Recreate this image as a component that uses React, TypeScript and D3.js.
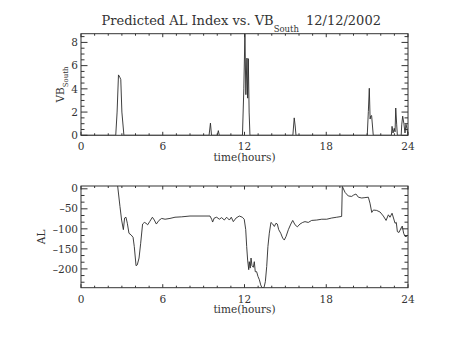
import React, { useEffect, useRef } from "react";
import * as d3 from "d3";

// VB_South (top panel), hours vs value
const vbHours = [
  0, 2.55, 2.65, 2.75, 2.85, 2.92, 3.0, 3.15,
  9.4, 9.5, 9.58, 10.0, 10.08, 10.15,
  11.85, 11.95, 12.03, 12.1, 12.18, 12.23, 12.28, 12.34, 12.4,
  15.55, 15.65, 15.72, 15.78,
  21.01, 21.09, 21.16, 21.22, 21.26, 21.33, 21.45,
  22.78, 22.83, 22.9, 22.99, 23.05, 23.1, 23.17, 23.22,
  23.5, 23.54, 23.61, 23.7, 23.78, 23.85, 23.92, 24,
];
const vbValues = [
  0, 0, 2.0, 5.2, 5.0, 4.8, 2.0, 0,
  0, 1.05, 0, 0, 0.4, 0,
  0, 4.0, 8.75, 3.5, 6.65, 3.2, 6.6, 2.0, 0,
  0, 1.5, 0.8, 0,
  0, 2.05, 4.05, 1.4, 1.65, 1.7, 0,
  0, 0.77, 0.2, 0.6, 0.3, 2.35, 0.9, 0,
  0, 0.9, 1.65, 1.0, 0.2, 0.95, 0.6, 0,
];

// AL index (bottom panel)
const alHours = [
  2.69, 2.86, 2.98, 3.11, 3.2, 3.3, 3.4, 3.52, 3.67, 3.82, 3.91, 4.04, 4.13,
  4.26, 4.38, 4.52, 4.65, 4.77, 4.89, 5.04, 5.24, 5.38, 5.53, 5.72, 5.92,
  6.17, 6.53, 6.9, 7.39, 8.0, 9.47, 9.59, 9.66, 9.78, 9.96, 10.15, 10.32,
  10.52, 10.69, 10.89, 11.03, 11.18, 11.38, 11.62, 11.84, 11.98, 12.09,
  12.16, 12.23, 12.31, 12.35, 12.42, 12.48, 12.55, 12.65, 12.72, 12.79,
  12.89, 12.99, 13.09, 13.19, 13.28, 13.43, 13.53, 13.63, 13.72, 13.82,
  13.94, 14.07, 14.19, 14.31, 14.41, 14.51, 14.66, 14.8, 14.92, 15.05,
  15.22, 15.4, 15.54, 15.71, 15.88, 16.07, 16.27, 16.44, 16.68, 16.93,
  17.3, 17.67, 18.03, 18.4, 18.77, 19.13, 19.18, 19.38, 19.62, 19.87,
  19.99, 20.18, 20.36, 20.6, 20.84, 21.09, 21.21, 21.34, 21.46, 21.7,
  21.95, 22.19, 22.39, 22.56, 22.68, 22.83, 22.98, 23.05, 23.14, 23.22,
  23.34, 23.49, 23.58, 23.68, 23.78, 23.9, 24,
];
const alValues = [
  7, -44, -78, -102, -73, -71, -86, -111, -115, -121, -144, -192, -190,
  -173, -136, -88, -84, -86, -90, -82, -71, -78, -88, -79, -74,
  -76, -74, -71, -70, -68, -68, -76, -83, -73, -71, -76, -72,
  -78, -71, -78, -71, -82, -73, -68, -71, -76, -102,
  -144, -178, -202, -182, -198, -173, -192, -196, -182, -207,
  -207, -219, -227, -240, -247, -247, -232, -194, -144, -111,
  -84, -88, -94, -86, -88, -102, -111, -123, -128, -119,
  -102, -88, -79, -90, -95, -88, -84, -82, -84, -79,
  -78, -76, -76, -73, -71, -69, 6, -9, -18, -19,
  -16, -13, -21, -23, -22, -21, -36, -59, -53, -54,
  -58, -68, -79, -65, -71, -61, -78, -86, -84, -107,
  -109, -98, -93, -111, -119, -119, -115,
];

const hourTicks = [0, 6, 12, 18, 24];
const vbTicks = [0, 2, 4, 6, 8];
const alTicks = [0, -50, -100, -150, -200];

const W = 453;
const H = 340;
const FONT = "'DejaVu Serif', serif";
const INK = "#333";

export default function App() {
  const ref = useRef<SVGSVGElement>(null);

  useEffect(() => {
    const svg = d3.select(ref.current);
    svg.selectAll("*").remove();

    const xScale = d3.scaleLinear().domain([0, 24]).range([81, 408]);

    const drawPanel = (
      y0: number,
      y1: number,
      domain: [number, number],
      ticks: number[],
      minorStep: number,
      hours: number[],
      values: number[],
      id: string
    ) => {
      const yScale = d3.scaleLinear().domain(domain).range([y1, y0]);
      const g = svg.append("g");

      // clip
      svg.append("clipPath").attr("id", id)
        .append("rect").attr("x", 81).attr("y", y0).attr("width", 327).attr("height", y1 - y0);

      // data line
      const line = d3.line<number>()
        .x((d, i) => xScale(hours[i]))
        .y(d => yScale(d));
      g.append("path")
        .attr("d", line(values))
        .attr("fill", "none")
        .attr("stroke", "#2a2a2a")
        .attr("stroke-width", 0.9)
        .attr("clip-path", `url(#${id})`);

      // box
      g.append("rect")
        .attr("x", 81).attr("y", y0).attr("width", 327).attr("height", y1 - y0)
        .attr("fill", "none").attr("stroke", INK).attr("stroke-width", 1);

      // x ticks (bottom and top, inward)
      const xMinor = d3.range(0, 25, 1);
      xMinor.forEach(h => {
        const len = hourTicks.includes(h) ? 3.5 : 2;
        const x = xScale(h);
        g.append("line").attr("x1", x).attr("x2", x).attr("y1", y1).attr("y2", y1 - len)
          .attr("stroke", INK);
        g.append("line").attr("x1", x).attr("x2", x).attr("y1", y0).attr("y2", y0 + len)
          .attr("stroke", INK);
      });
      hourTicks.forEach(h => {
        g.append("text").attr("x", xScale(h)).attr("y", y1 + 15)
          .attr("text-anchor", "middle").attr("font-size", 10.5).attr("font-family", FONT)
          .attr("fill", INK).text(h);
      });
      g.append("text").attr("x", xScale(12)).attr("y", y1 + 25.5)
        .attr("text-anchor", "middle").attr("font-size", 10.5).attr("font-family", FONT)
        .attr("fill", INK).text("time(hours)");

      // y ticks (left and right, inward)
      const start = Math.ceil(domain[0] / minorStep) * minorStep;
      d3.range(start, domain[1] + 1e-6, minorStep).forEach(v => {
        const isMajor = ticks.some(t => Math.abs(t - v) < 1e-6);
        const len = isMajor ? 6.5 : 3.5;
        const y = yScale(v);
        g.append("line").attr("x1", 81).attr("x2", 81 + len).attr("y1", y).attr("y2", y)
          .attr("stroke", INK);
        g.append("line").attr("x1", 408).attr("x2", 408 - len).attr("y1", y).attr("y2", y)
          .attr("stroke", INK);
      });
      ticks.forEach(v => {
        g.append("text").attr("x", 78).attr("y", yScale(v)).attr("dy", "0.35em")
          .attr("text-anchor", "end").attr("font-size", 10.5).attr("font-family", FONT)
          .attr("fill", INK).text(v < 0 ? `\u2013${-v}` : `${v}`);
      });
      return yScale;
    };

    drawPanel(33.7, 135.3, [0, 8.75], vbTicks, 0.5, vbHours, vbValues, "clipTop");
    drawPanel(186, 287.7, [-247, 7], alTicks, 50 / 3, alHours, alValues, "clipBottom");

    // title
    const title = svg.append("text").attr("x", 101.5).attr("y", 25)
      .attr("font-family", FONT).attr("font-size", 13).attr("fill", INK);
    title.append("tspan").text("Predicted AL Index vs. VB");
    title.append("tspan").attr("dy", 7).attr("font-size", 8.5).text("South");
    title.append("tspan").attr("x", 306).attr("dy", -7).text("12/12/2002");

    // y axis labels
    const vbLabel = svg.append("text")
      .attr("transform", `translate(64,${(33.7 + 135.3) / 2}) rotate(-90)`)
      .attr("text-anchor", "middle").attr("font-family", FONT).attr("font-size", 10.5)
      .attr("fill", INK);
    vbLabel.append("tspan").text("VB");
    vbLabel.append("tspan").attr("dy", 4).attr("font-size", 7).text("South");

    svg.append("text")
      .attr("transform", `translate(45,${(186 + 287.7) / 2}) rotate(-90)`)
      .attr("text-anchor", "middle").attr("font-family", FONT).attr("font-size", 10.5)
      .attr("fill", INK).text("AL");
  }, []);

  return (
    <svg
      ref={ref}
      width={W}
      height={H}
      style={{ position: "absolute", left: 0, top: 0, background: "#fff" }}
    />
  );
}
